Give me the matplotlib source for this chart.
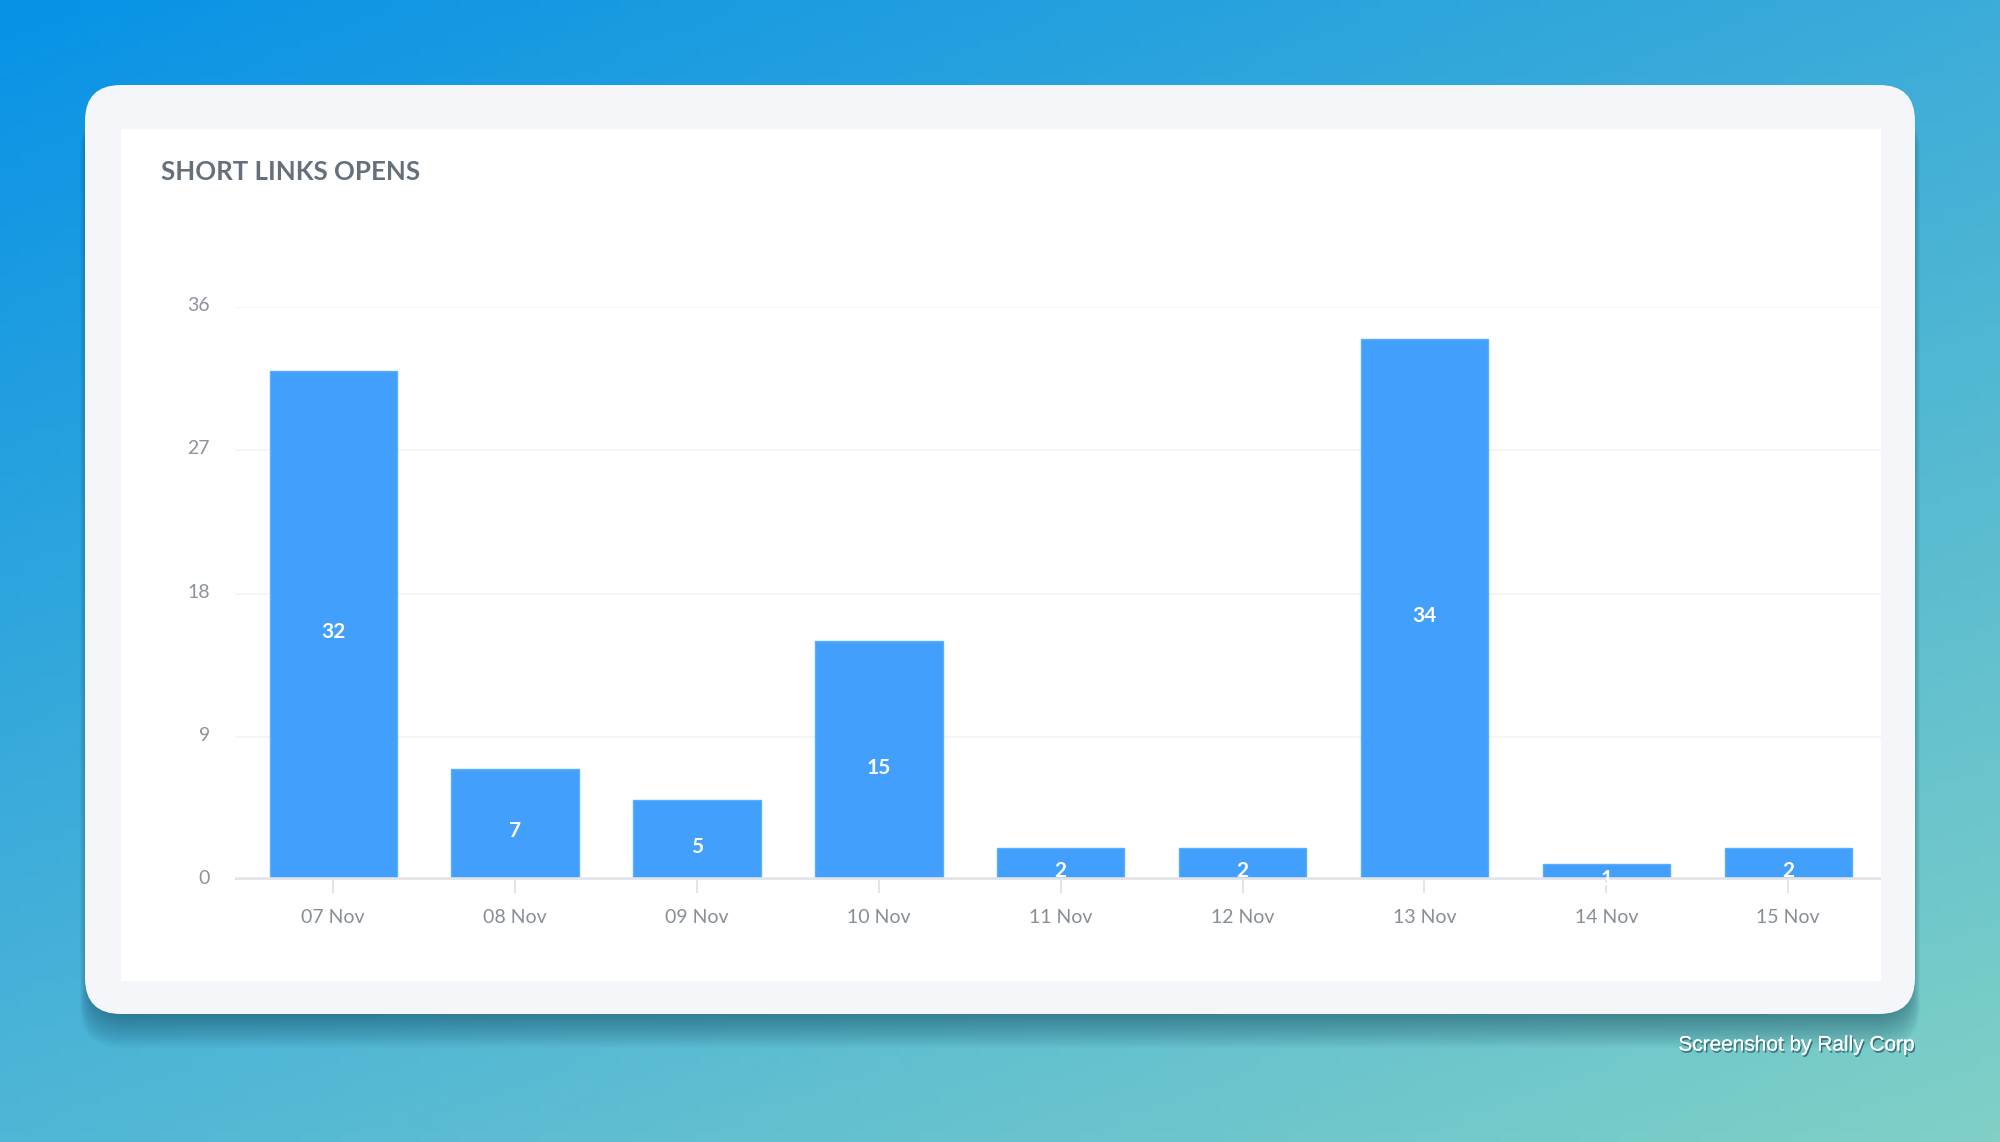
import numpy as np
import matplotlib
matplotlib.use("Agg")
import matplotlib.pyplot as plt
from matplotlib.patches import FancyBboxPatch, Rectangle
import matplotlib.patheffects as pe
import matplotlib.transforms as mtrans

plt.rcParams['font.family'] = ['Lato', 'DejaVu Sans']

days = ["07 Nov", "08 Nov", "09 Nov", "10 Nov", "11 Nov", "12 Nov", "13 Nov", "14 Nov", "15 Nov"]
opens = [32, 7, 5, 15, 2, 2, 34, 1, 2]
yticks = [0, 9, 18, 27, 36]

W, H = 2000, 1142
fig = plt.figure(figsize=(20, 11.42), dpi=100)

# background gradient + card, drawn in pixel coords
bg = fig.add_axes([0, 0, 1, 1])
bg.set_xlim(0, W)
bg.set_ylim(H, 0)
bg.axis("off")
tl = np.array([0x08, 0x92, 0xe6]) / 255
tr = np.array([0x3c, 0xac, 0xd9]) / 255
bl = np.array([0x50, 0xb6, 0xd6]) / 255
br = np.array([0x80, 0xd0, 0xc6]) / 255
u = np.linspace(0, 1, 200)[None, :, None]
v = np.linspace(0, 1, 120)[:, None, None]
grad = (1 - u) * (1 - v) * tl + u * (1 - v) * tr + (1 - u) * v * bl + u * v * br
bg.imshow(grad, extent=[0, W, H, 0], aspect="auto", zorder=0)

# soft shadow under the card (mostly below it)
for i in range(14):
    g = i * 2.5
    bg.add_patch(FancyBboxPatch((90 - g * 0.3, 110), 1820 + g * 0.6, 905 + g,
                                boxstyle="round,pad=0,rounding_size=40",
                                fc="#0b3a50", ec="none", alpha=0.04, zorder=1))
bg.add_patch(FancyBboxPatch((85, 85), 1830, 929, boxstyle="round,pad=0,rounding_size=36",
                            fc="#f5f6f9", ec="none", zorder=2))
bg.add_patch(Rectangle((121, 129), 1760, 852, fc="white", ec="none", zorder=3))

bg.text(161, 172, "SHORT LINKS OPENS", fontsize=18.6, fontweight="bold",
        color="#66707b", va="center", ha="left", zorder=4)

txt = bg.text(1915, 1045, "Screenshot by Rally Corp", fontsize=15, color="white",
              ha="right", va="center", zorder=4, family=["Liberation Sans", "DejaVu Sans"])
txt.set_path_effects([pe.withSimplePatchShadow(offset=(1, -1.5), shadow_rgbFace="#1d4a55", alpha=0.7),
                      pe.Normal()])

# chart
ax = fig.add_axes([235 / W, 1 - 880 / H, (1881 - 235) / W, (880 - 307) / H])
ax.set_facecolor("none")
x = np.arange(len(days))
bars = ax.bar(x, opens, width=0.70, color="#42a0fc", edgecolor="#5aaefc", linewidth=1, zorder=3)
ax.set_xlim(-0.54, 8.51)
ax.set_ylim(0, 36)
ax.set_yticks(yticks)
ax.set_xticks(x)
ax.set_xticklabels(days)
for yv in yticks[1:]:
    ax.axhline(yv, color="#f2f3f6", lw=1.2, zorder=1)
ax.axhline(0, color="#e2e5ea", lw=4, zorder=4)
for s in ax.spines.values():
    s.set_visible(False)
ax.tick_params(axis="x", length=9, width=1.4, color="#e2e5ea", labelsize=14,
               labelcolor="#878e96", pad=12)
ax.tick_params(axis="y", length=0, labelsize=14, labelcolor="#8d939b", pad=18)
shift = mtrans.ScaledTranslation(0, 3 / 100, fig.dpi_scale_trans)
for lbl in ax.get_yticklabels():
    lbl.set_transform(lbl.get_transform() + shift)

for xi, val in zip(x, opens):
    ax.annotate(str(val), (xi, val / 2), xytext=(0, -5), textcoords="offset points",
                ha="center", va="center", color="white", fontsize=15,
                fontweight="bold", zorder=5)

fig.savefig("out.png", dpi=100)
